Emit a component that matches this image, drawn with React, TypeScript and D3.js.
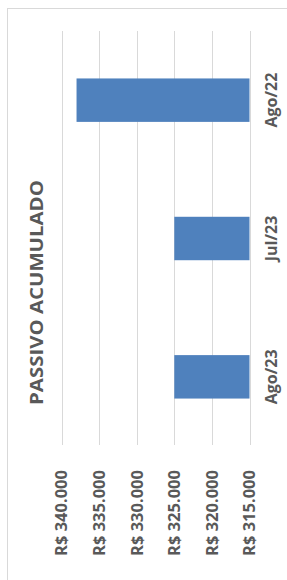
import * as d3 from 'd3';

const categories = ["Ago/22", "Jul/23", "Ago/23"];
const values = [338000, 325000, 325000];
const tickValues = [340000, 335000, 330000, 325000, 320000, 315000];
const title = "PASSIVO ACUMULADO";

export default function App() {
    const width = 287;
    const height = 580;

    // chart is drawn turned a quarter turn: values run right-to-left, categories top-to-bottom
    const x = d3.scaleLinear()
        .domain([315000, 340000])
        .range([249.5, 61.5]);

    const y = d3.scaleBand()
        .domain(categories)
        .range([31, 446])
        .paddingInner(0.686)
        .paddingOuter(0.343);

    const fmt = (v: number) => "R$ " + d3.format(",")(v).replace(/,/g, ".");
    const font = "'Open Sans', sans-serif";
    const textColor = "#595959";

    return (
        <div style={{ position: "absolute", top: 0, left: 0 }}>
            <svg width={width} height={height} style={{ display: "block", background: "#fff" }}>
                {/* chart frame */}
                <rect x={7.5} y={8.5} width={320} height={600} fill="#fff" stroke="#d9d9d9" strokeWidth={1} />

                {/* gridlines */}
                {tickValues.map(t => (
                    <line key={t} x1={Math.round(x(t)) + 0.5} x2={Math.round(x(t)) + 0.5} y1={31} y2={445}
                        stroke="#d9d9d9" strokeWidth={1} />
                ))}

                {/* bars */}
                {categories.map((c, i) => (
                    <rect key={c}
                        x={x(values[i])}
                        y={y(c)}
                        width={x(315000) - x(values[i])}
                        height={y.bandwidth()}
                        fill="#4f81bd" />
                ))}

                {/* value axis labels */}
                {tickValues.map(t => (
                    <text key={t}
                        transform={`translate(${x(t)},470) rotate(-90)`}
                        textAnchor="end" dy="0.36em"
                        fontFamily={font} fontSize={16.5} fontWeight={700} fill={textColor}>
                        {fmt(t)}
                    </text>
                ))}

                {/* category labels */}
                {categories.map(c => (
                    <text key={c}
                        transform={`translate(277,${(y(c) || 0) + y.bandwidth() / 2}) rotate(-90)`}
                        textAnchor="middle"
                        fontFamily={font} fontSize={16} fontWeight={700} fill={textColor}>
                        {c}
                    </text>
                ))}

                {/* title */}
                <text transform="translate(42.5,292.5) rotate(-90) scale(1.2,1)" textAnchor="middle"
                    fontFamily={font} fontSize={17} fontWeight={700} fill={textColor}>
                    {title}
                </text>
            </svg>
        </div>
    );
}
